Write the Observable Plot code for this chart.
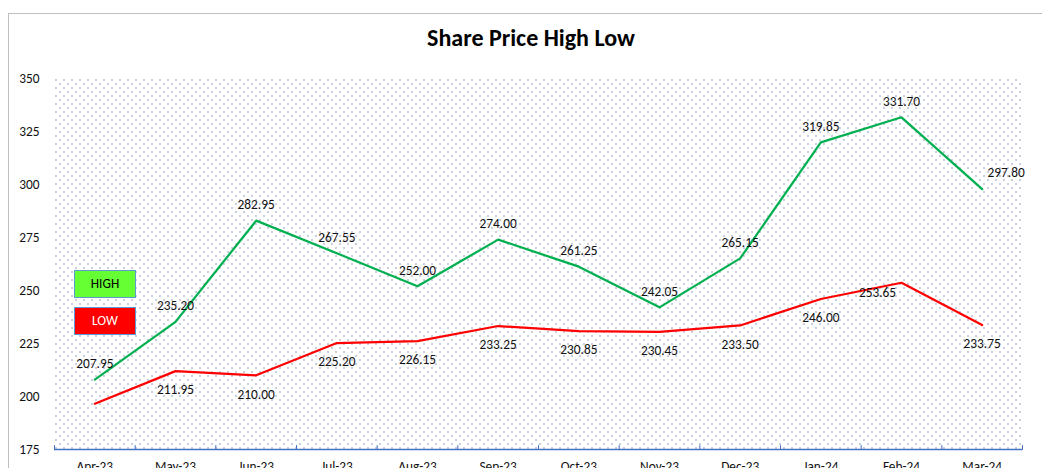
<!DOCTYPE html>
<html><head><meta charset="utf-8">
<script src="https://cdn.jsdelivr.net/npm/d3@7"></script>
<script src="https://cdn.jsdelivr.net/npm/@observablehq/plot@0.6"></script>
<style>
body{margin:0;width:1042px;height:468px;overflow:hidden;background:#fff;font-family:Carlito,Lato,sans-serif;position:relative;}
#frame{position:absolute;left:8px;top:13px;width:1100px;height:520px;border:1px solid #bfbfbf;box-sizing:border-box;}
#title{position:absolute;left:0;width:1062px;top:26px;text-align:center;font-weight:bold;font-size:24px;line-height:24px;color:#000;}
#chart{position:absolute;left:0;top:60px;}
.legend{position:absolute;left:74px;width:62px;height:28px;box-sizing:border-box;border:1px solid #5B9BD5;text-align:center;line-height:26px;font-size:13.33px;}
</style></head><body>
<div id="frame"></div>
<div id="title"></div>
<div id="chart"></div>
<div id="legend"></div>
<script>
const title = "Share Price High Low";
const months = ["Apr-23","May-23","Jun-23","Jul-23","Aug-23","Sep-23","Oct-23","Nov-23","Dec-23","Jan-24","Feb-24","Mar-24"];
const high = [207.95, 235.20, 282.95, 267.55, 252.00, 274.00, 261.25, 242.05, 265.15, 319.85, 331.70, 297.80];
const low = [196.6, 211.95, 210.00, 225.20, 226.15, 233.25, 230.85, 230.45, 233.50, 246.00, 253.65, 233.75];
const yTicks = [175, 200, 225, 250, 275, 300, 325, 350];
const legendLabels = ["HIGH", "LOW"];
const legendColors = ["#66FF33", "#FF0000"];
const legendText = ["#000000", "#ffffff"];

document.getElementById("title").textContent = title;

const rows = months.map((m, i) => ({i, x: i + 0.5, month: m, high: high[i], low: low[i]}));
const boundaries = d3.range(months.length + 1);
const fmt = v => v.toFixed(2);
const tickShape = {draw(ctx, l) { ctx.moveTo(0, 0); ctx.lineTo(0, -l); }};
const fs = 13.33;

const svg = Plot.plot({
  width: 1042,
  height: 429,
  marginLeft: 54,
  marginRight: 20,
  marginTop: 18,
  marginBottom: 40,
  style: {fontFamily: "Carlito, Lato, sans-serif", fontSize: fs + "px", color: "#111", background: "transparent", overflow: "visible"},
  x: {domain: [0, months.length], axis: null},
  y: {domain: [yTicks[0], yTicks[yTicks.length - 1]], axis: null},
  marks: [
    Plot.frame({fill: "url(#dots)", stroke: "none"}),
    Plot.ruleY([yTicks[0]], {stroke: "#4472C4", strokeWidth: 1.5}),
    Plot.vector(boundaries, {x: d => d, y: () => yTicks[0], length: 4, rotate: 0, anchor: "start", shape: tickShape, stroke: "#4472C4", strokeWidth: 1}),
    Plot.axisY(yTicks, {tickSize: 0, tickPadding: 15, label: null, fontSize: fs}),
    Plot.axisX(rows.map(d => d.x), {tickSize: 0, tickPadding: 12, label: null, fontSize: fs, tickFormat: d => months[Math.floor(d)]}),
    Plot.line(rows, {x: "x", y: "high", stroke: "#00B050", strokeWidth: 2.25}),
    Plot.line(rows, {x: "x", y: "low", stroke: "#FF0000", strokeWidth: 2.25}),
    Plot.text(rows.filter(d => d.i !== 11), {x: "x", y: "high", text: d => fmt(d.high), dy: -16, fill: "#111", fontSize: fs}),
    Plot.text(rows.filter(d => d.i === 11), {x: "x", y: "high", text: d => fmt(d.high), dx: 24, dy: -16, fill: "#111", fontSize: fs}),
    Plot.text(rows.filter(d => d.i !== 0 && d.i !== 10), {x: "x", y: "low", text: d => fmt(d.low), dy: 19, fill: "#111", fontSize: fs}),
    Plot.text(rows.filter(d => d.i === 10), {x: "x", y: "low", text: d => fmt(d.low), dx: -24, dy: 10, fill: "#111", fontSize: fs})
  ]
});

const ns = "http://www.w3.org/2000/svg";
const defs = document.createElementNS(ns, "defs");
const pat = document.createElementNS(ns, "pattern");
pat.setAttribute("id", "dots");
pat.setAttribute("patternUnits", "userSpaceOnUse");
pat.setAttribute("width", 8);
pat.setAttribute("height", 8);
pat.setAttribute("x", 7);
pat.setAttribute("y", 3);
[[0, 0], [4, 4]].forEach(([px, py]) => {
  const r = document.createElementNS(ns, "rect");
  r.setAttribute("x", px); r.setAttribute("y", py);
  r.setAttribute("width", 1); r.setAttribute("height", 1);
  r.setAttribute("fill", "#2e3a72");
  pat.appendChild(r);
});
defs.appendChild(pat);
svg.insertBefore(defs, svg.firstChild);
document.getElementById("chart").appendChild(svg);

const leg = document.getElementById("legend");
legendLabels.forEach((lab, k) => {
  const div = document.createElement("div");
  div.className = "legend";
  div.style.top = (270 + k * 37) + "px";
  div.style.background = legendColors[k];
  div.style.color = legendText[k];
  div.textContent = lab;
  leg.appendChild(div);
});
</script>
</body></html>
